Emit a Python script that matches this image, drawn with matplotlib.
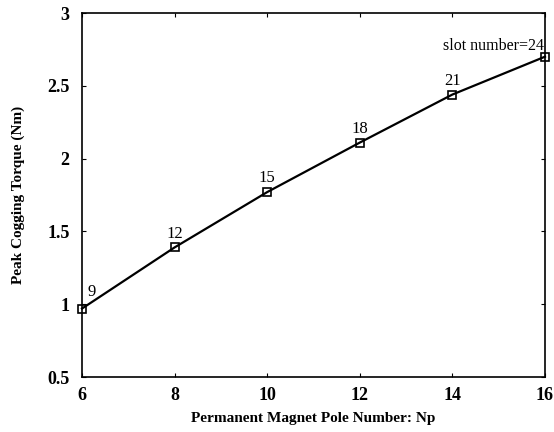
import matplotlib.pyplot as plt

poles = [6, 8, 10, 12, 14, 16]
torque = [0.97, 1.39, 1.77, 2.11, 2.44, 2.70]
slot_labels = ["9", "12", "15", "18", "21", "slot number=24"]

plt.rcParams['font.family'] = 'Liberation Serif'

fig = plt.figure(figsize=(5.54, 4.32), dpi=100)
ax = fig.add_axes([82 / 554, 1 - 377 / 432, (545 - 82) / 554, (377 - 13) / 432])

ax.plot(poles, torque, color='black', linewidth=1.6, marker='s', markersize=6,
        markerfacecolor='none', markeredgecolor='black', markeredgewidth=1.2, clip_on=False)

# etiquetas de numero de ranuras
for x, y, lab in zip(poles, torque, slot_labels):
    if x == 16:
        ax.text(x - 0.02, y + 0.02, lab, ha='right', va='bottom', fontsize=11.5)
    elif x == 6:
        ax.text(x + 0.12, y + 0.06, lab, ha='left', va='bottom', fontsize=12)
    else:
        ax.text(x, y + 0.04, lab, ha='center', va='bottom', fontsize=12)

ax.set_xlim(6, 16)
ax.set_ylim(0.5, 3)
ax.set_xticks([6, 8, 10, 12, 14, 16])
ax.set_yticks([0.5, 1, 1.5, 2, 2.5, 3])
ax.set_yticklabels(["0.5", "1", "1.5", "2", "2.5", "3"])
ax.tick_params(direction='in', top=True, right=True, length=3, width=0.8, labelsize=13)
ax.tick_params(axis='x', pad=7)
ax.tick_params(axis='y', pad=9)
for lab in ax.get_xticklabels() + ax.get_yticklabels():
    lab.set_fontweight('bold')
for s in ax.spines.values():
    s.set_linewidth(1.2)

ax.set_xlabel("Permanent Magnet Pole Number: Np", fontsize=11, fontweight='bold', labelpad=6)
ax.set_ylabel("Peak Cogging Torque (Nm)", fontsize=11, fontweight='bold', labelpad=16)

fig.savefig("out.png", dpi=100)
